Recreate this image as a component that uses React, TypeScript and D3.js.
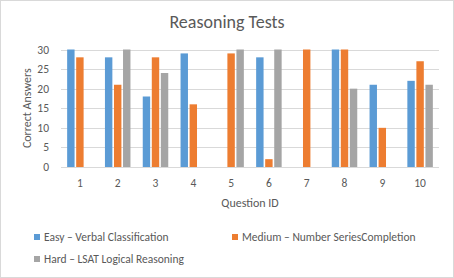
import React from 'react';
import * as d3 from 'd3';

// question ids (categories)
const questions = ['1', '2', '3', '4', '5', '6', '7', '8', '9', '10'];

// series values
const easy = [30, 28, 18, 29, 0, 28, 0, 30, 21, 22];
const medium = [28, 21, 28, 16, 29, 2, 30, 30, 10, 27];
const hard = [0, 30, 24, 0, 30, 30, 0, 20, 0, 21];

const seriesNames = [
    'Easy – Verbal Classification',
    'Medium – Number SeriesCompletion',
    'Hard – LSAT Logical Reasoning',
];
const seriesColors = ['#5B9BD5', '#ED7D31', '#A5A5A5'];
const yTicks = [0, 5, 10, 15, 20, 25, 30];

const W = 454;
const H = 278;
const font = 'Carlito, Calibri, "Liberation Sans", Arial, sans-serif';

const App: React.FC = () => {
    const allSeries = [easy, medium, hard];
    const plot = {left: 61, right: 439, top: 49.5, bottom: 167};

    const x = d3.scaleBand<string>()
        .domain(questions)
        .range([plot.left, plot.right]);

    const y = d3.scaleLinear()
        .domain([0, 30])
        .range([plot.bottom, plot.top]);

    // 每組三根柱子
    const inner = d3.scaleBand<number>()
        .domain([0, 1, 2])
        .range([0, 25.5])
        .paddingInner(0.18);

    const groupOffset = (x.bandwidth() - 25.5) / 2;

    return (
        <div style={{position: 'fixed', left: 0, top: 0}}>
            <svg width={W} height={H} viewBox={`0 0 ${W} ${H}`} style={{display: 'block', fontFamily: font}}>
                <rect x={0.5} y={0.5} width={W - 1} height={H - 1} fill="#fff" stroke="#D9D9D9"/>

                <text x={W / 2} y={28} textAnchor="middle" fontSize={18} fill="#595959">Reasoning Tests</text>

                {/* 網格線 */}
                {yTicks.map(t => (
                    <g key={t}>
                        <line x1={plot.left} x2={plot.right} y1={Math.round(y(t)) + 0.5} y2={Math.round(y(t)) + 0.5}
                              stroke="#D9D9D9" strokeWidth={1}/>
                        <text x={49} y={y(t)} dy="0.35em" textAnchor="end" fontSize={11.5} fill="#595959">{t}</text>
                    </g>
                ))}

                {/* 柱子 */}
                {allSeries.map((vals, si) => (
                    <g key={si} fill={seriesColors[si]}>
                        {vals.map((v, i) => v > 0 && (
                            <rect key={i}
                                  x={(x(questions[i]) as number) + groupOffset + (inner(si) as number)}
                                  y={y(v)}
                                  width={inner.bandwidth()}
                                  height={y(0) - y(v)}/>
                        ))}
                    </g>
                ))}

                {questions.map(q => (
                    <text key={q} x={(x(q) as number) + x.bandwidth() / 2} y={183} dy="0.35em"
                          textAnchor="middle" fontSize={11.5} fill="#595959">{q}</text>
                ))}

                <text x={(plot.left + plot.right) / 2} y={203} dy="0.35em" textAnchor="middle"
                      fontSize={12} fill="#595959">Question ID</text>

                <text transform={`translate(27,${(plot.top + plot.bottom) / 2}) rotate(-90)`} dy="0.35em"
                      textAnchor="middle" fontSize={12} fill="#595959">Correct Answers</text>

                {/* 圖例 */}
                {seriesNames.map((name, i) => {
                    const lx = i === 1 ? 232 : 34;
                    const ly = i === 2 ? 259 : 237;
                    return (
                        <g key={name}>
                            <rect x={lx} y={ly - 3} width={6} height={6} fill={seriesColors[i]}/>
                            <text x={lx + 10} y={ly} dy="0.35em" fontSize={11.5} fill="#595959">{name}</text>
                        </g>
                    );
                })}
            </svg>
        </div>
    );
};

export default App;
